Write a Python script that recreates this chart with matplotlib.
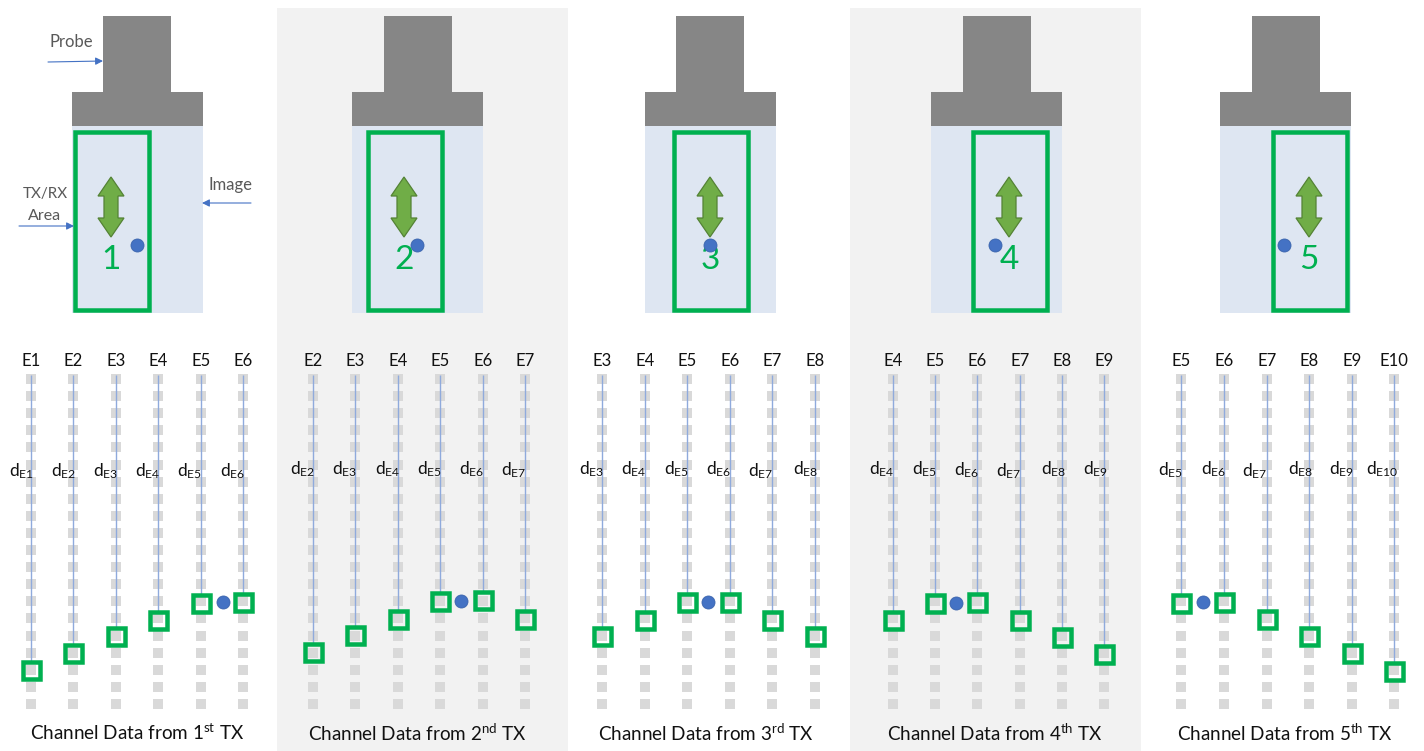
import matplotlib
matplotlib.use("Agg")
import matplotlib.pyplot as plt
from matplotlib.patches import Rectangle, Polygon

plt.rcParams['font.family'] = ['Lato', 'DejaVu Sans']
plt.rcParams['mathtext.fontset'] = 'custom'
plt.rcParams['mathtext.rm'] = 'Lato'
plt.rcParams['mathtext.default'] = 'rm'

W, H = 1424, 751
PX = 72 / 100  # points per pixel at 100 dpi

# ---- data ----
tx_numbers = [1, 2, 3, 4, 5]
ordinals = ['st', 'nd', 'rd', 'th', 'th']
title_x = [137, 417, 706, 995, 1285]
electrode_ids = [[1, 2, 3, 4, 5, 6], [2, 3, 4, 5, 6, 7], [3, 4, 5, 6, 7, 8],
                 [4, 5, 6, 7, 8, 9], [5, 6, 7, 8, 9, 10]]
electrode_x = [[31, 73, 116, 158, 201, 243],
               [313, 355, 398, 440, 483, 525],
               [602, 645, 687, 730, 772, 815],
               [893, 935, 977, 1020, 1062, 1104],
               [1181, 1224, 1267, 1309, 1352, 1394]]
arrival_y = [[670, 653, 636, 620, 603, 602],
             [652, 635, 619, 601, 600, 619],
             [636, 620, 602, 602, 620, 636],
             [620, 603, 602, 620, 637, 654],
             [603, 602, 619, 636, 653, 671]]
delay_label_x = [[9, 51, 93, 135, 177, 220],
                 [290, 332, 375, 417, 459, 501],
                 [579, 621, 664, 706, 748, 793],
                 [869, 912, 954, 996, 1041, 1083],
                 [1158, 1201, 1242, 1288, 1329, 1366]]
delay_label_y = [[471] * 6,
                 [469, 469, 469, 469, 469, 470],
                 [469, 469, 469, 469, 471, 469],
                 [469, 469, 470, 471, 469, 469],
                 [470, 469, 471, 469, 469, 469]]
scatterer_x = [223, 461, 708, 956, 1203]
scatterer_y = [602, 601, 602, 603, 602]
grey_rows = [379 + 17.1 * i for i in range(20)]

head_left = [72, 352, 645, 931, 1220]
stem_left = [103, 384, 676, 963, 1252]
box_left = [73, 366, 672, 971, 1271]
arrow_x = [111, 404, 710, 1009, 1309]
dot_x = [137, 417, 710, 995, 1284]

shaded_panels = [(277, 568), (850, 1141)]

# ---- colours ----
GREEN = '#00b050'
GREY_MARK = '#d9d9d9'
LINE_BLUE = '#8faadc'
BLUE = '#4472c4'
PROBE = '#868686'
IMAGE = '#dee6f2'
SHADE = '#f2f2f2'
LABEL = '#595959'

fig = plt.figure(figsize=(W / 100, H / 100), dpi=100, facecolor='white')
ax = fig.add_axes([0, 0, 1, 1])
ax.set_xlim(0, W)
ax.set_ylim(H, 0)
ax.axis('off')

for a, b in shaded_panels:
    ax.add_patch(Rectangle((a, 8), b - a, H - 8, fc=SHADE, ec='none', zorder=0))


def double_arrow(cx):
    top, bot, hw, sw, hh = 177, 237, 13, 7, 19
    pts = [(cx, top), (cx + hw, top + hh), (cx + sw, top + hh), (cx + sw, bot - hh),
           (cx + hw, bot - hh), (cx, bot), (cx - hw, bot - hh), (cx - sw, bot - hh),
           (cx - sw, top + hh), (cx - hw, top + hh)]
    ax.add_patch(Polygon(pts, closed=True, fc='#70ad47', ec='#548235', lw=0.9, zorder=4))


for p in range(5):
    # probe schematic
    ax.add_patch(Rectangle((stem_left[p], 16), 68, 77, fc=PROBE, ec='none', zorder=2))
    ax.add_patch(Rectangle((head_left[p], 92), 131, 34, fc=PROBE, ec='none', zorder=2))
    ax.add_patch(Rectangle((head_left[p], 126), 131, 187, fc=IMAGE, ec='none', zorder=1))
    ax.add_patch(Rectangle((box_left[p] + 2, 131.5), 74, 178.5, fc='none', ec=GREEN,
                           lw=4.5 * PX, zorder=3))
    double_arrow(arrow_x[p])
    ax.text(arrow_x[p], 260, str(tx_numbers[p]), color=GREEN, fontsize=24, fontweight='normal',
            ha='center', va='center', zorder=4)
    ax.scatter([dot_x[p]], [245], s=88, color=BLUE, edgecolors='#3b64ad', linewidths=0.6, zorder=5)

    # channel data
    for i in range(6):
        x = electrode_x[p][i]
        y = arrival_y[p][i]
        ax.scatter([x] * len(grey_rows), grey_rows, marker='s', s=42, color=GREY_MARK,
                   linewidths=0, zorder=2)
        ax.plot([x, x], [375, y - 8], color=LINE_BLUE, lw=1.0, zorder=3, solid_capstyle='butt')
        ax.add_patch(Rectangle((x - 8.5, y - 8.5), 17, 17, fc='none', ec=GREEN,
                               lw=4.5 * PX, joinstyle='miter', zorder=5))
        n = electrode_ids[p][i]
        ax.text(x, 361, f'E{n}', color='#111111', fontsize=12, ha='center', va='center', zorder=6)
        ax.text(delay_label_x[p][i], delay_label_y[p][i], rf'd$_{{\mathrm{{E{n}}}}}$',
                color='#111111', fontsize=12.5, ha='left', va='center', zorder=6)
    ax.scatter([scatterer_x[p]], [scatterer_y[p]], s=88, color=BLUE, edgecolors='#3b64ad',
               linewidths=0.6, zorder=5)
    ax.text(title_x[p], 733,
            rf'Channel Data from {tx_numbers[p]}$^{{\mathrm{{{ordinals[p]}}}}}$ TX',
            color='#111111', fontsize=13.6, ha='center', va='center', zorder=6)

# annotations
for text, x, y, size in [('Probe', 71, 42, 12), ('TX/RX', 45, 194, 11), ('Area', 45, 216, 11.5),
                         ('Image', 231, 185, 12)]:
    ax.text(x, y, text, color=LABEL, fontsize=size, ha='center', va='center', zorder=6)
for x0, y0, x1, y1 in [(48, 62, 103, 61), (19, 226, 74, 226), (251, 203, 202, 203)]:
    ax.annotate('', xy=(x1, y1), xytext=(x0, y0),
                arrowprops=dict(arrowstyle='-|>', color=BLUE, lw=0.8, mutation_scale=11,
                                shrinkA=0, shrinkB=0), zorder=6)

fig.savefig('out.png', dpi=100, facecolor='white')
